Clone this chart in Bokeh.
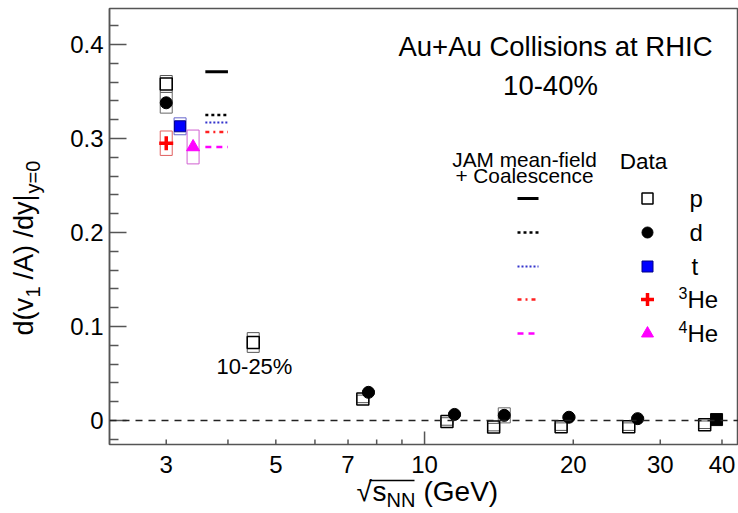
import math
from bokeh.plotting import figure
from bokeh.layouts import row, column
from bokeh.models import Range1d, FixedTicker, Span, Label, Arrow
from bokeh.embed import file_html
from bokeh.resources import INLINE

FONT = "Liberation Sans"

# ---------------- data ----------------
# proton, 10-40%  (energies slightly shifted for visibility, as in the figure)
p_energy = [3.0, 7.5, 11.1, 13.8, 18.9, 25.9, 36.9]
p_slope = [0.358, 0.023, -0.001, -0.007, -0.0065, -0.0065, -0.0045]
p_sys = [0.009, 0.004, 0.004, 0.004, 0.004, 0.004, 0.004]
# proton, 10-25%
p2_energy = [4.5]
p2_slope = [0.083]
p2_sys = [0.0105]
# deuteron
d_energy = [3.0, 7.7, 11.5, 14.5, 19.6, 27.0, 39.0]
d_slope = [0.338, 0.030, 0.0065, 0.0055, 0.0035, 0.002, 0.001]
d_sys = [0.011, 0.002, 0.002, 0.008, 0.002, 0.002, 0.002]
d_marker = ["circle", "circle", "circle", "circle", "circle", "circle", "square"]
# triton, 3He, 4He
t_energy = [3.2]
t_slope = [0.313]
t_sys = [0.009]
he3_energy = [3.0]
he3_slope = [0.295]
he3_sys = [0.013]
he4_energy = [3.4]
he4_slope = [0.291]
he4_sys = [0.018]
# JAM mean-field + coalescence at 3 GeV (p, d, t, 3He, 4He)
jam_slope = [0.371, 0.325, 0.317, 0.307, 0.291]
jam_energy_lo, jam_energy_hi = 3.6, 4.0

x_ticks = [3, 5, 7, 10, 20, 30, 40]
x_tick_labels = ["3", "5", "7", "10", "20", "30", "40"]
x_minor = [4, 6, 8, 9]
y_ticks = [0, 0.1, 0.2, 0.3, 0.4]

# ---------------- layout (page pixels) ----------------
TOTAL_W, TOTAL_H = 738, 513
YT_W = 58                 # strip holding the y-axis title
FL, FT, FR, FB = 109, 8, 738, 444          # frame edges (page px)
MAIN_H = FB + 2           # main figure; the strip below holds x tick labels + title
X0, X1 = 2.303, 43.2
Y0, Y1 = -0.0255, 0.4383
PX_PER_DEC = (FR - FL) / (math.log10(X1) - math.log10(X0))
PX_PER_Y = (FB - FT) / (Y1 - Y0)


def xpx(x):
    return FL + (math.log10(x) - math.log10(X0)) * PX_PER_DEC


def xd(px):
    return 10 ** (math.log10(X0) + (px - FL) / PX_PER_DEC)


def yd(py):
    return Y0 + (FB - py) / PX_PER_Y


p = figure(width=TOTAL_W - YT_W, height=MAIN_H, x_axis_type="log", output_backend="svg",
           toolbar_location=None, x_range=Range1d(X0, X1), y_range=Range1d(Y0, Y1),
           x_axis_location=None,
           min_border_left=FL - YT_W, min_border_right=TOTAL_W - FR,
           min_border_top=FT, min_border_bottom=MAIN_H - FB)
p.grid.visible = False
AX = "#555555"
p.outline_line_color = AX
p.outline_line_width = 1.5

ya = p.yaxis[0]
ya.ticker = FixedTicker(ticks=y_ticks,
                        minor_ticks=[round(-0.02 + 0.02 * i, 2) for i in range(23) if i % 5 != 1])
ya.major_label_overrides = {0: "0"}
ya.axis_line_color = AX
ya.axis_line_width = 1.5
ya.major_tick_line_color = AX
ya.minor_tick_line_color = AX
ya.major_tick_line_width = 1.5
ya.minor_tick_line_width = 1.5
ya.major_tick_out = 0
ya.minor_tick_out = 0
ya.major_tick_in = 17
ya.minor_tick_in = 9
ya.major_label_standoff = 6
ya.major_label_text_font = FONT
ya.major_label_text_font_size = "24px"
ya.major_label_text_color = "black"

# x-axis ticks (inside the frame, drawn on the bottom edge)
tick_len = [13 if t == 10 else 5 for t in x_ticks] + [5 for _ in x_minor]
tick_pos = x_ticks + x_minor
p.segment(x0=tick_pos, x1=tick_pos, y0=[Y0] * len(tick_pos),
          y1=[Y0 + L / PX_PER_Y for L in tick_len], line_color=AX, line_width=1.5)

p.add_layout(Span(location=0, dimension="width", line_color="#222222",
                  line_width=1.5, line_dash="7 6"))

# ---------------- data marks ----------------
SYSW = 12
for xs, ys, ss, c in [(p_energy, p_slope, p_sys, "#555555"),
                      (p2_energy, p2_slope, p2_sys, "#555555"),
                      (d_energy, d_slope, d_sys, "#666666"),
                      (t_energy, t_slope, t_sys, "#6666cc"),
                      (he3_energy, he3_slope, he3_sys, "#e06060"),
                      (he4_energy, he4_slope, he4_sys, "#d060d0")]:
    p.rect(xs, ys, width=SYSW, width_units="screen", height=[2 * s for s in ss],
           fill_color=None, line_color=c, line_width=1)

p.scatter(p_energy, p_slope, marker="square", size=12, fill_color=None,
          line_color="black", line_width=1.5)
p.scatter(p2_energy, p2_slope, marker="square", size=12, fill_color=None,
          line_color="black", line_width=1.5)
p.scatter(d_energy, d_slope, marker=d_marker, size=12, fill_color="black", line_color="black")
p.scatter(t_energy, t_slope, marker="square", size=11, fill_color="#0000ff", line_color="#000088")
p.scatter(he3_energy, he3_slope, marker="cross", size=14, line_color="#ff0000", line_width=3.5)
p.scatter(he4_energy, he4_slope, marker="triangle", size=13, fill_color="#ff00ff",
          line_color="#ff00ff")

jam_styles = [
    dict(line_color="black", line_width=3, line_dash="solid"),
    dict(line_color="black", line_width=2.5, line_dash="3 3"),
    dict(line_color="#3333cc", line_width=2, line_dash="2 2"),
    dict(line_color="#ff2020", line_width=2.5, line_dash="4 4 2 4"),
    dict(line_color="#ff00ff", line_width=2.5, line_dash="6 5"),
]
for v, st in zip(jam_slope, jam_styles):
    p.segment(x0=[jam_energy_lo], x1=[jam_energy_hi], y0=[v], y1=[v], **st)

# ---------------- legend (drawn by hand) ----------------
rows = [198, 232, 266, 299, 333]
for ry, st in zip(rows, jam_styles):
    p.segment(x0=[xd(517)], x1=[xd(538)], y0=[yd(ry)], y1=[yd(ry)], **st)
mx = xd(647)
p.scatter([mx], [yd(rows[0])], marker="square", size=11, fill_color=None, line_color="black", line_width=1.5)
p.scatter([mx], [yd(rows[1])], marker="circle", size=11, fill_color="black", line_color="black")
p.scatter([mx], [yd(rows[2])], marker="square", size=11, fill_color="#0000ff", line_color="#000088")
p.scatter([mx], [yd(rows[3])], marker="cross", size=13, line_color="#ff0000", line_width=3.5)
p.scatter([mx], [yd(rows[4])], marker="triangle", size=12, fill_color="#ff00ff", line_color="#ff00ff")


def label(fig, left, bottom, text, px, py, size, align="left", angle=0.0):
    # px, py: page position of the text baseline start; the renderer places the
    # alphabetic baseline about 0.35 em lower, so compensate here.
    sh = 0.35 * size
    if angle:
        px -= sh
    else:
        py -= sh
    fig.add_layout(Label(x=px - left, y=bottom - py, x_units="screen", y_units="screen",
                         text=text, text_font=FONT, text_font_size=f"{size}px",
                         text_align=align, text_baseline="alphabetic", angle=angle,
                         text_color="black"))


def mlabel(*a, **k):
    label(p, FL, FB, *a, **k)


mlabel("p", 689, rows[0] + 8, 24)
mlabel("d", 689, rows[1] + 8, 24)
mlabel("t", 691, rows[2] + 8, 24)
mlabel("3", 678, rows[3] - 1, 16)
mlabel("He", 687, rows[3] + 8, 24)
mlabel("4", 678, rows[4] - 1, 16)
mlabel("He", 687, rows[4] + 8, 24)

mlabel("JAM mean-field", 524, 166, 20.8, align="center")
mlabel("+ Coalescence", 524, 182, 20.8, align="center")
mlabel("Data", 643, 169, 22.5, align="center")

mlabel("Au+Au Collisions at RHIC", 555, 56, 27.5, align="center")
mlabel("10-40%", 550, 95, 27.5, align="center")
mlabel("10-25%", 254, 374, 22, align="center")


def strip(w, h):
    f = figure(width=w, height=h, output_backend="svg", toolbar_location=None,
               x_range=Range1d(0, 1), y_range=Range1d(0, 1),
               x_axis_location=None, y_axis_location=None,
               min_border_left=0, min_border_right=0, min_border_top=0, min_border_bottom=0)
    f.grid.visible = False
    f.outline_line_color = None
    return f


# y-axis title strip: d(v_1 /A) /dy|_{y=0}
yt = strip(YT_W, MAIN_H)
A = math.pi / 2
label(yt, 0, MAIN_H, "d(v", 33, 337, 27, angle=A)
label(yt, 0, MAIN_H, "1", 39, 299, 20, angle=A)
label(yt, 0, MAIN_H, "/A) /dy|", 33, 281, 27, angle=A)
label(yt, 0, MAIN_H, "y=0", 39, 195, 20, angle=A)

# x strip: tick labels and the title sqrt(s_NN) (GeV)
XT_H = TOTAL_H - MAIN_H
xt = strip(TOTAL_W, XT_H)
for t, s in zip(x_ticks, x_tick_labels):
    label(xt, 0, TOTAL_H, s, xpx(t), 472, 24, align="center")
label(xt, 0, TOTAL_H, "\u221a", 356, 501, 28)
label(xt, 0, TOTAL_H, "s", 372, 501, 28)
label(xt, 0, TOTAL_H, "NN", 386, 506, 20)
label(xt, 0, TOTAL_H, "(GeV)", 423, 501, 28)
xt.add_layout(Arrow(end=None, x_start=369, y_start=TOTAL_H - 480, x_end=414, y_end=TOTAL_H - 480,
                    start_units="screen", end_units="screen", line_color="black", line_width=1.5))

layout = column(row(yt, p, spacing=0), xt, spacing=0)
open("out.html", "w").write(file_html(layout, INLINE))
